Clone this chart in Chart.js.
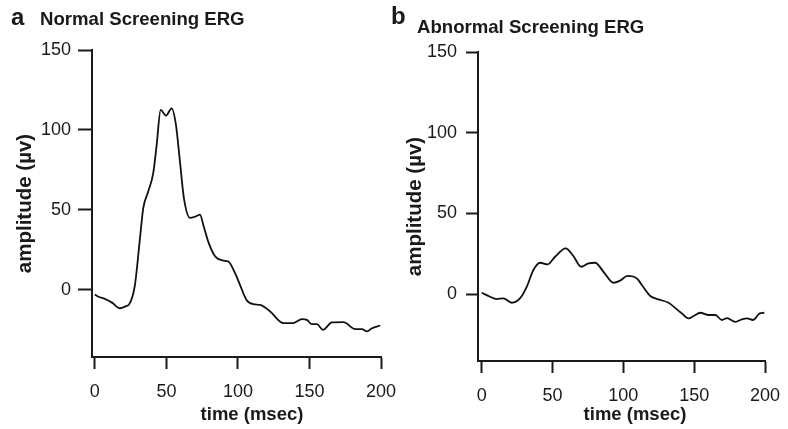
<!DOCTYPE html>
<html>
<head>
<meta charset="utf-8">
<script src="https://cdn.jsdelivr.net/npm/chart.js@4.4.1/dist/chart.umd.min.js"></script>
<style>
  body { margin: 0; background: #fff; }
  #wrap { position: relative; width: 788px; height: 429px; overflow: hidden; font-family: "Liberation Sans", Arial, sans-serif; color: #1a1a1a; }
  canvas { position: absolute; top: 0; }
  .lbl { position: absolute; font-weight: bold; white-space: nowrap; }
  .letter { font-size: 24px; line-height: 26px; }
  .ttl { font-size: 18.6px; line-height: 20px; }
  .xttl { font-size: 18.5px; line-height: 20px; width: 200px; text-align: center; }
</style>
</head>
<body>
<div id="wrap">
  <canvas id="chartA" width="420" height="429" style="left:0"></canvas>
  <canvas id="chartB" width="394" height="429" style="left:394px"></canvas>
  <div class="lbl letter" style="left:11px;top:4px">a</div>
  <div class="lbl ttl" style="left:40px;top:9px">Normal Screening ERG</div>
  <div class="lbl letter" style="left:391px;top:3px">b</div>
  <div class="lbl ttl" style="left:417px;top:17px">Abnormal Screening ERG</div>
  <div class="lbl xttl" style="left:152px;top:404px">time (msec)</div>
  <div class="lbl xttl" style="left:535px;top:404px">time (msec)</div>
</div>
<script>
// x ticks (msec) and y ticks (µv), same on both panels
const timeTicks = [0, 50, 100, 150, 200];
const ampTicks = [0, 50, 100, 150];

// panel a - normal screening ERG
const normalTime = [0, 3, 7, 12, 17.5, 21, 24.5, 28, 31.5, 33.8, 37.3, 40.8, 43.2, 46, 49.7, 53.7, 56.7, 59.5, 62.3, 66.5, 70.7, 73.5, 75.8, 79.3, 84, 89.8, 93.3, 98, 101.5, 106, 110.8, 115.5, 122.5, 131.8, 138.8, 144.7, 148.2, 151.7, 155.2, 159.4, 165.7, 173.8, 182, 186.7, 190.2, 193.7, 199.5];
const normalAmp = [-3, -4.5, -5.6, -8, -11.5, -10.5, -8.3, 3, 32, 51, 61.5, 73, 90.6, 112.5, 109, 113.5, 103, 80, 57, 45, 46, 47, 40.6, 30, 21, 18.3, 17.7, 10.4, 3, -6.3, -9, -9.4, -13.5, -20.8, -20.8, -18.3, -18.8, -21.5, -21.5, -25, -20.4, -20.2, -24.6, -24.6, -26, -24, -22.3];

// panel b - abnormal screening ERG
const abnormalTime = [0, 5.9, 10.6, 15.3, 21.2, 27, 31.8, 36.5, 41.2, 46.6, 51.8, 59.3, 64.7, 70.2, 75.4, 80.1, 86, 93, 97.7, 102.9, 109.5, 113.1, 119, 124.8, 131.9, 137.8, 141.3, 146, 149.6, 154.3, 160.2, 164.9, 169.6, 173.2, 179, 183.7, 187.3, 191.5, 196.2, 199.5];
const abnormalAmp = [0.8, -1.7, -3.1, -2.7, -5.4, -2.7, 4.5, 14.9, 19.4, 18.4, 23.1, 28.3, 23.6, 16.9, 19, 19.4, 13.8, 7, 8.3, 11.2, 9.7, 5.6, -1.2, -3.3, -5.4, -9.5, -12, -15.1, -13.6, -11.6, -13, -13, -16.1, -14.9, -17.2, -15.7, -15.1, -16.1, -12, -11.6];

const FONT = "'Liberation Sans', Arial, sans-serif";
const INK = '#1a1a1a';

function makePanel(id, times, amps, box) {
  const canvas = document.getElementById(id);
  return new Chart(canvas.getContext('2d'), {
    type: 'line',
    data: {
      datasets: [{
        data: times.map((t, i) => ({x: t, y: amps[i]})),
        borderColor: '#111',
        borderWidth: 1.8,
        pointRadius: 0,
        fill: false,
        cubicInterpolationMode: 'monotone'
      }]
    },
    options: {
      responsive: false,
      animation: false,
      layout: { padding: { left: 0, top: box.top, right: canvas.width - box.right, bottom: 0 } },
      plugins: { legend: { display: false }, tooltip: { enabled: false } },
      scales: {
        x: {
          type: 'linear',
          min: box.xMin, max: 200,
          afterBuildTicks: s => { s.ticks = timeTicks.map(v => ({value: v})); },
          afterFit: s => { s.height = 429 - box.bottom; s.paddingLeft = 0; s.paddingRight = 0; },
          border: { display: true, color: INK, width: 2 },
          grid: { drawOnChartArea: false, drawTicks: true, tickLength: 12, tickColor: INK, tickWidth: 2 },
          ticks: { color: INK, padding: 12, font: { family: FONT, size: 18 }, maxRotation: 0 },
          title: { display: false }
        },
        y: {
          min: box.yMin, max: 150,
          afterBuildTicks: s => { s.ticks = ampTicks.map(v => ({value: v})); },
          afterFit: s => { s.width = box.left; s.paddingTop = 0; s.paddingBottom = 0; },
          border: { display: true, color: INK, width: 2 },
          grid: { drawOnChartArea: false, drawTicks: true, tickLength: box.tick, tickColor: INK, tickWidth: 2 },
          ticks: { color: INK, padding: box.pad, font: { family: FONT, size: 18 } },
          title: { display: true, text: 'amplitude (µv)', color: INK, padding: { top: box.titleTop, bottom: 0 }, font: { family: FONT, size: 20.5, weight: 'bold' } }
        }
      }
    }
  });
}

makePanel('chartA', normalTime, normalAmp, { left: 92, top: 50, right: 381, bottom: 357, xMin: -2, yMin: -42, tick: 14, pad: 7, titleTop: 13 });
makePanel('chartB', abnormalTime, abnormalAmp, { left: 84, top: 52, right: 371, bottom: 361, xMin: -2.6, yMin: -41.5, tick: 12, pad: 9, titleTop: 9 });
</script>
</body>
</html>
